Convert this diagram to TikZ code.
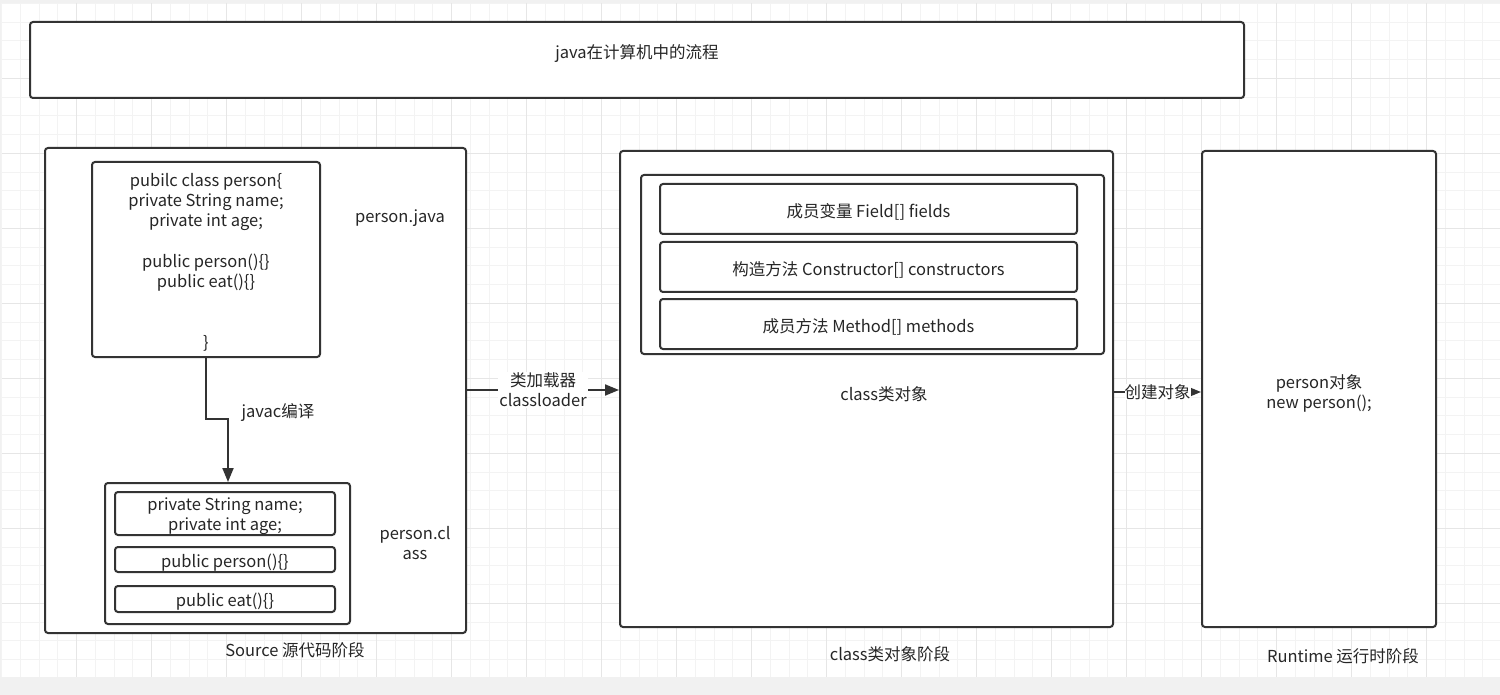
\documentclass[tikz,border=0pt]{standalone}
\usepackage{fontspec}
\setmainfont{Noto Sans CJK SC}
\usetikzlibrary{positioning, calc, arrows.meta}

\definecolor{linecol}{HTML}{333333}
\definecolor{txtcol}{HTML}{262626}
\definecolor{gridminor}{HTML}{F3F3F3}
\definecolor{gridmajor}{HTML}{E6E6E6}
\definecolor{pagegray}{HTML}{F1F1F1}

\tikzset{
    box/.style={draw=linecol, line width=2pt, rounded corners=3pt, fill=white,
        inner sep=0pt},
    txt/.style={inner sep=1pt, align=center, text=txtcol, yshift=-3pt,
        font=\fontsize{16.5}{20}\selectfont},
    lbl/.style={txt, fill=white},
    flow/.style={draw=linecol, line width=2pt,
        -{Triangle[length=14pt, width=11pt]}},
}

\begin{document}
\begin{tikzpicture}[x=1pt, y=-1pt]
        \useasboundingbox (0,0) rectangle (1500,695);
        % page and grid
        \fill[pagegray] (0,0) rectangle (1500,695);
        \fill[white] (2,3) rectangle (1500,677);
        \foreach \gx in {1.7,20.45,...,1500}
            \draw[gridminor, line width=1pt] (\gx,3) -- (\gx,677);
        \foreach \gy in {3.3,22.05,...,677}
            \draw[gridminor, line width=1pt] (2,\gy) -- (1500,\gy);
        \foreach \gx in {76.7,151.7,...,1500}
            \draw[gridmajor, line width=1pt] (\gx,3) -- (\gx,677);
        \foreach \gy in {78.3,153.3,...,677}
            \draw[gridmajor, line width=1pt] (2,\gy) -- (1500,\gy);

        % title
        \node[box, minimum width=1214pt, minimum height=76pt] (title) at (637,60) {};
        \node[txt] (titletext) at (637,51) {java在计算机中的流程};

        % source stage
        \node[box, minimum width=421pt, minimum height=485pt] (source) at (255.5,390.5) {};
        \node[box, minimum width=228pt, minimum height=195pt] (javafile) at (206,259.5) {};
        \node[txt, anchor=north] (javacode) at (206,169) {pubilc class person\{\\
            private String name;\\
            private int age;\\[21pt]
            public person()\{\}\\
            public eat()\{\}\\[41pt]
            \}};
        \node[txt] (javaname) at (400,215) {person.java};

        \node[box, minimum width=245pt, minimum height=141pt] (classfile) at (227.5,553.5) {};
        \node[box, minimum width=220pt, minimum height=43pt] (fields) at (225,513.5) {};
        \node[box, minimum width=220pt, minimum height=25pt] (ctor) at (225,559.5) {};
        \node[box, minimum width=220pt, minimum height=26pt] (eat) at (225,599) {};
        \node[txt] at (fields) {private String name;\\private int age;};
        \node[txt] at (ctor) {public person()\{\}};
        \node[txt] at (eat) {public eat()\{\}};
        \node[txt] (classname) at (415,540) {person.cl\\ass};
        \node[txt] (sourcestage) at (295,647) {Source 源代码阶段};

        \coordinate (bendA) at (206,419);
        \coordinate (bendB) at (228,419);
        \draw[flow] (javafile.south) -- (bendA) -- (bendB) -- (bendB |- classfile.north);
        \node[txt] (javac) at (278,410) {javac编译};

        % class object stage
        \node[box, minimum width=493pt, minimum height=476pt] (classobj) at (866.5,389) {};
        \node[box, minimum width=463pt, minimum height=179pt] (members) at (872.5,264.5) {};
        \node[box, minimum width=417pt, minimum height=50pt] (fieldarr) at (868.5,209) {};
        \node[box, minimum width=417pt, minimum height=50pt] (ctorarr) at (868.5,267) {};
        \node[box, minimum width=417pt, minimum height=50pt] (methodarr) at (868.5,324) {};
        \node[txt] at (fieldarr) {成员变量 Field[] fields};
        \node[txt] at (ctorarr) {构造方法 Constructor[] constructors};
        \node[txt] at (methodarr) {成员方法 Method[] methods};
        \node[txt] (classobjtext) at (884,391) {class类对象};
        \node[txt] (classstage) at (890,651) {class类对象阶段};

        \draw[flow] (source.east |- 0,390) -- (classobj.west |- 0,390)
            node[lbl, midway, yshift=3pt] (loader) {类加载器\\classloader};

        % runtime stage
        \node[box, minimum width=234pt, minimum height=476pt] (runtime) at (1319,389) {};
        \node[txt] (runtimetext) at (1319,390.5) {person对象\\new person();};
        \node[txt] (runtimestage) at (1343,653) {Runtime 运行时阶段};

        \draw[flow] (classobj.east |- 0,392) -- (runtime.west |- 0,392)
            node[lbl, midway, inner sep=0pt, yshift=3pt] (create) {创建对象};
    \end{tikzpicture}
\end{document}
